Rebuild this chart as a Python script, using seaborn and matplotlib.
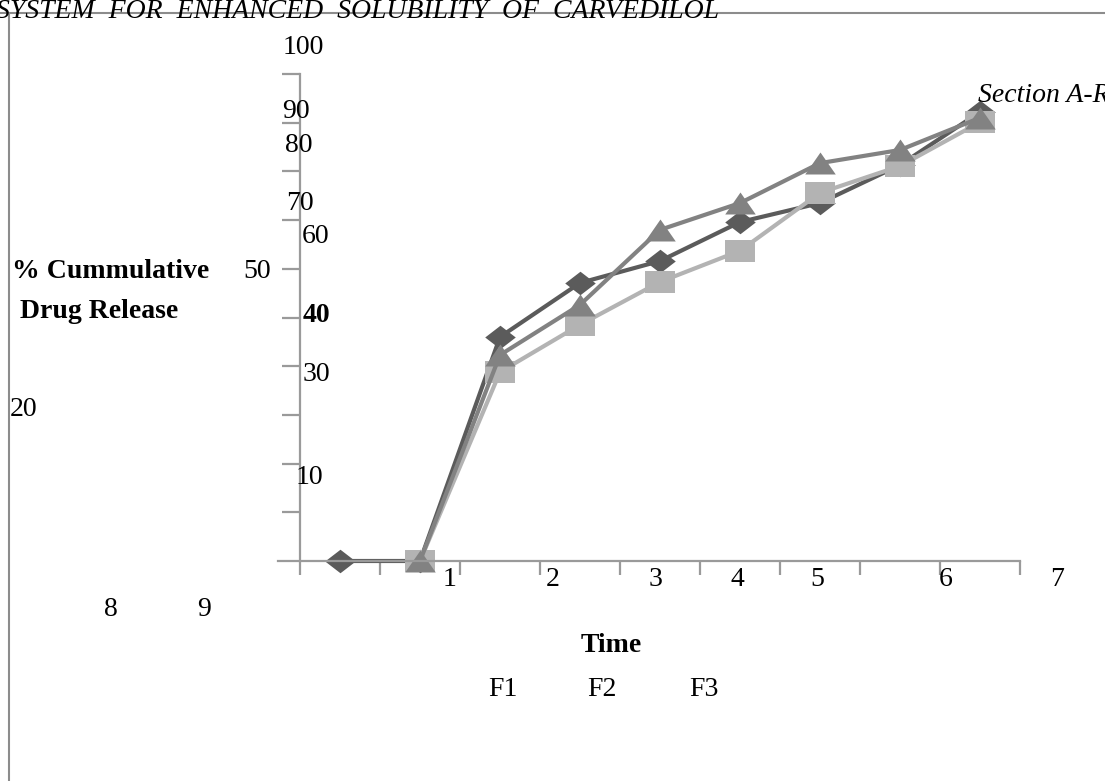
import numpy as np
import matplotlib
matplotlib.use("Agg")
import matplotlib.pyplot as plt
import seaborn as sns
from matplotlib.lines import Line2D

# % cumulative drug release
time_points = [0, 1, 2, 3, 4, 5, 6, 7, 8]
f1_release = [0, 0, 46.0, 57.1, 61.6, 69.6, 73.5, 81.3, 92.2]
f2_release = [np.nan, 0, 38.8, 48.5, 57.3, 63.7, 75.6, 81.1, 90.1]
f3_release = [np.nan, 0, 42.3, 52.6, 68.0, 73.5, 81.7, 84.4, 91.0]
series_names = ['F1', 'F2', 'F3']

# labels as they came out of the pdf (scattered around)
y_tick_labels = ['100', '90', '80', '70', '60', '50', '40', '30', '20', '10']
x_tick_labels = ['1', '2', '3', '4', '5', '6', '7', '8', '9']
y_title = ['% Cummulative', 'Drug Release']
x_title = 'Time'
header = 'SYSTEM  FOR  ENHANCED  SOLUBILITY  OF  CARVEDILOL'
section = 'Section A-Research paper'

W, H = 1105, 781
sns.set_style('white')
plt.rcParams['font.family'] = ['Liberation Serif', 'DejaVu Serif']
plt.rcParams['text.color'] = 'black'

fig = plt.figure(figsize=(W / 100, H / 100), dpi=100)
# plot area in pixels: x 300..1020, y 74..561
ax = fig.add_axes([300 / W, 1 - 561 / H, 720 / W, 487 / H])


def px(x, y):
    return x / W, 1 - y / H


# series styles (the pdf stretched the markers sideways)
colors = ['#5b5b5b', '#b3b3b3', '#828282']
markers = [
    [(-1, 0), (0, 0.77), (1, 0), (0, -0.77)],
    [(-1, -0.72), (1, -0.72), (1, 0.72), (-1, 0.72)],
    [(-1, -0.72), (1, -0.72), (0, 0.72)],
]
msizes = [22, 22, 22]

for vals, c, m, s in zip([f1_release, f2_release, f3_release], colors, markers, msizes):
    sns.lineplot(x=time_points, y=vals, ax=ax, color=c, marker=m, markersize=s,
                 markeredgewidth=0, linewidth=3, clip_on=False)

ax.set_xlim(-0.5, 8.5)
ax.set_ylim(0, 100)
ax.set_xlabel('')
ax.set_ylabel('')

# axis lines and tick marks, labels drawn separately below
for side in ['top', 'right']:
    ax.spines[side].set_visible(False)
for side in ['left', 'bottom']:
    ax.spines[side].set_color('#9a9a9a')
    ax.spines[side].set_linewidth(1.6)
ax.spines['bottom'].set_bounds(-0.78, 8.5)
ax.set_yticks(np.arange(10, 101, 10))
ax.set_xticks(np.arange(-0.5, 8.6, 1))
ax.set_yticklabels([])
ax.set_xticklabels([])
ax.tick_params(axis='y', direction='out', length=13, width=1.6, color='#9a9a9a', left=True)
ax.tick_params(axis='x', direction='out', length=10, width=1.6, color='#9a9a9a', bottom=True)

fs = 20
y_label_pos = [(303, 48), (296, 111), (299, 145), (300, 204), (316, 236),
               (257, 271), (316, 315), (316, 375), (24, 409), (309, 477)]
for lab, (x, y) in zip(y_tick_labels, y_label_pos):
    fig.text(*px(x, y), lab, ha='center', va='center', fontsize=fs,
             fontweight='bold' if lab == '40' else 'normal')

x_label_pos = [(450, 579), (553, 579), (655, 579), (737, 579), (817, 579),
               (946, 579), (1057, 579), (111, 610), (204, 610)]
for lab, (x, y) in zip(x_tick_labels, x_label_pos):
    fig.text(*px(x, y), lab, ha='center', va='center', fontsize=fs)

fig.text(*px(12, 271), y_title[0], ha='left', va='center', fontsize=fs, fontweight='bold')
fig.text(*px(20, 312), y_title[1], ha='left', va='center', fontsize=fs, fontweight='bold')
fig.text(*px(611, 645), x_title, ha='center', va='center', fontsize=fs, fontweight='bold')

# legend entries came out as loose text
for name, x in zip(series_names, [503, 602, 704]):
    fig.text(*px(x, 690), name, ha='center', va='center', fontsize=fs)

# page header and frame lines
fig.text(*px(-4, 18), header, ha='left', va='baseline', fontsize=fs, style='italic')
fig.text(*px(978, 95), section, ha='left', va='center', fontsize=fs, style='italic')
fig.add_artist(Line2D([0, 1], [1 - 13 / H, 1 - 13 / H], color='#8c8c8c', lw=1.5))
fig.add_artist(Line2D([9 / W, 9 / W], [0, 1 - 13 / H], color='#8c8c8c', lw=1.5))

fig.savefig('out.png', dpi=100)
